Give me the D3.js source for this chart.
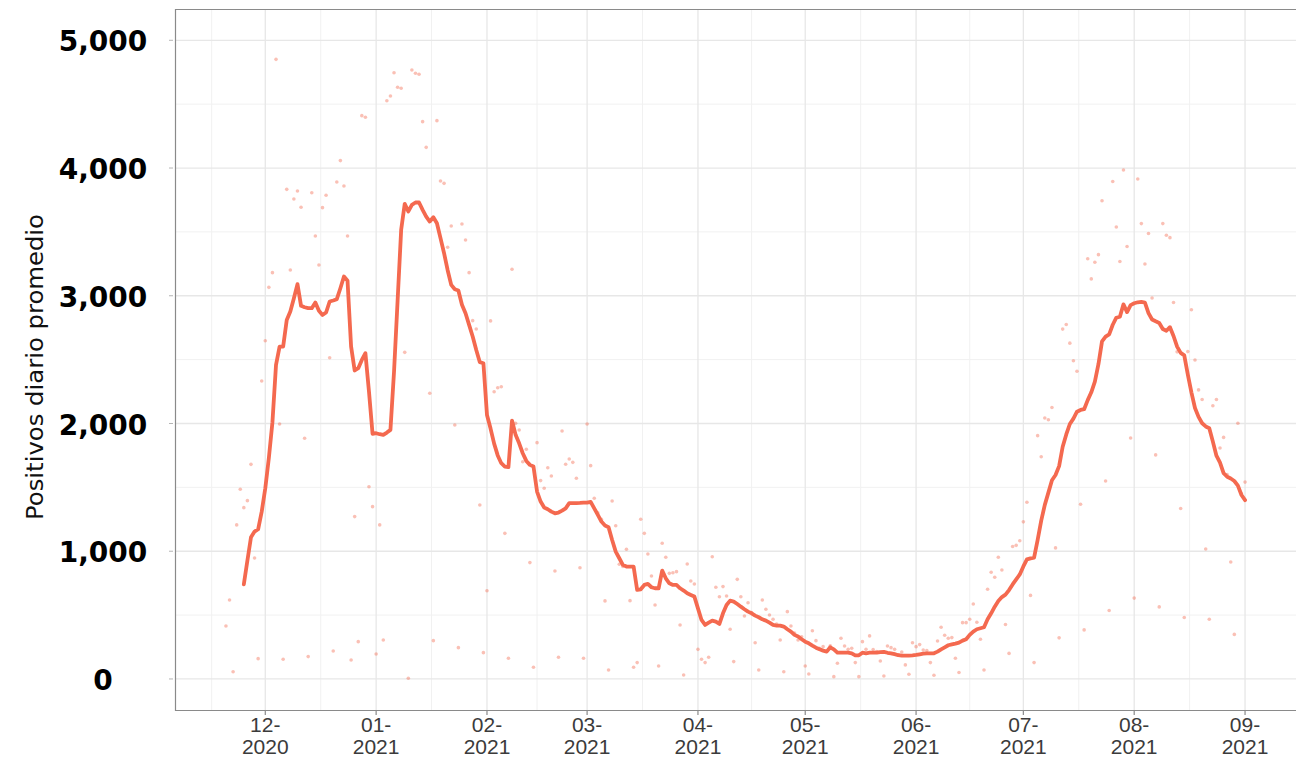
<!DOCTYPE html>
<html>
<head>
<meta charset="utf-8">
<script src="https://cdn.jsdelivr.net/npm/d3@7"></script>
<style>
  html, body { margin: 0; padding: 0; background: #fff; }
  svg { display: block; }
</style>
</head>
<body>
<svg id="chart" width="1296" height="759"></svg>
<script>
// daily positives, one value per day starting 2020-11-20
var dailyStart = '2020-11-20';
var dailyValues = [
  415, 618, 57, 1206, 1485, 1341, 1396, 1680, 947, 159,
  2333, 2648, 3066, 3181, 4851, 1996, 154, 3833, 3202, 3758,
  3820, 3693, 1884, 175, 3807, 3468, 3241, 3690, 3787, 2515,
  219, 3891, 4058, 3859, 3468, 149, 1271, 292, 4410, 4397,
  1505, 1349, 196, 1206, 305, 4527, 4564, 4746, 4632, 4624,
  2557, 5, 4767, 4742, 4734, 4363, 4162, 2237, 300, 4371,
  3899, 3880, 3380, 3546, 1988, 245, 3562, 3437, 3181, 2805,
  2740, 1362, 206, 691, 2803, 2249, 2280, 2288, 1140, 162,
  3207, 2001, 1949, 1701, 1798, 911, 92, 1850, 1553, 1493,
  1654, 1589, 845, 170, 1941, 1681, 1722, 1696, 1571, 871,
  162, 1996, 1670, 1415, 1300, 1250, 611, 70, 1393, 1200,
  898, 880, 1015, 613, 92, 128, 1250, 1140, 978, 806,
  579, 102, 1062, 953, 827, 832, 840, 423, 31, 900,
  767, 744, 232, 154, 128, 170, 957, 718, 644, 723,
  650, 389, 136, 780, 644, 493, 597, 520, 284, 70,
  618, 546, 501, 467, 430, 305, 57, 527, 415, 360,
  305, 330, 102, 39, 378, 300, 240, 253, 220, 260,
  18, 123, 319, 258, 232, 240, 128, 18, 292, 232,
  337, 230, 215, 141, 23, 258, 245, 232, 190, 211,
  110, 37, 284, 253, 269, 227, 222, 128, 29, 297,
  405, 342, 319, 324, 162, 50, 441, 441, 467, 587,
  444, 311, 70, 702, 835, 796, 953, 853, 426, 200,
  1037, 1046, 1082, 1230, 1384, 654, 128, 1905, 1740, 2043,
  2029, 2125, 1026, 322, 2739, 2775, 2629, 2491, 2409, 1368,
  384, 3290, 3132, 3262, 3322, 3744, 1550, 536, 3895, 3538,
  3268, 3984, 3386, 1886, 633, 3914, 3565, 3249, 3488, 2982,
  1754, 564, 3565, 3474, 3455, 2947, 2561, 1335, 481, 2563,
  2891, 2497, 2263, 2188, 1018, 467, 2139, 2188, 1808, 1891,
  1600, 916, 349, 2002, 1450, 1541
];

// 7-day average, one value per day starting 2020-11-25
var avgStart = '2020-11-25';
var avgValues = [
  741, 927, 1109, 1154, 1172, 1310, 1493, 1731, 2010, 2459,
  2602, 2602, 2811, 2877, 2981, 3091, 2921, 2910, 2903, 2903,
  2947, 2882, 2850, 2869, 2955, 2963, 2973, 3059, 3151, 3117,
  2602, 2415, 2433, 2498, 2550, 2250, 1919, 1924, 1916, 1911,
  1929, 1950, 2404, 2960, 3516, 3720, 3660, 3712, 3730, 3730,
  3673, 3620, 3581, 3615, 3568, 3451, 3333, 3200, 3085, 3051,
  3041, 2929, 2863, 2772, 2681, 2576, 2480, 2472, 2067, 1960,
  1842, 1750, 1689, 1663, 1658, 2023, 1911, 1845, 1767, 1707,
  1676, 1663, 1467, 1389, 1342, 1329, 1310, 1297, 1303, 1318,
  1336, 1376, 1376, 1376, 1378, 1381, 1381, 1386, 1336, 1284,
  1232, 1201, 1188, 1088, 997, 945, 893, 880, 880, 880,
  697, 702, 736, 744, 718, 710, 710, 848, 788, 749,
  736, 736, 710, 692, 671, 658, 645, 553, 462, 423,
  441, 457, 449, 431, 514, 579, 613, 606, 587, 566,
  546, 527, 514, 496, 483, 467, 457, 441, 423, 418,
  418, 410, 389, 371, 345, 332, 311, 292, 279, 261,
  245, 232, 222, 214, 248, 232, 206, 206, 206, 206,
  201, 185, 185, 206, 201, 206, 206, 206, 210, 212,
  205, 201, 194, 186, 183, 183, 183, 185, 188, 193,
  198, 201, 201, 201, 214, 232, 248, 264, 271, 277,
  285, 300, 311, 345, 371, 389, 397, 405, 467, 514,
  566, 610, 641, 660, 696, 740, 779, 818, 881, 936,
  944, 950, 1088, 1239, 1363, 1459, 1556, 1597, 1666, 1818,
  1914, 1996, 2038, 2092, 2106, 2112, 2183, 2244, 2327, 2464,
  2643, 2680, 2698, 2773, 2828, 2836, 2933, 2872, 2927, 2941,
  2949, 2952, 2947, 2864, 2814, 2800, 2787, 2740, 2726, 2754,
  2685, 2602, 2553, 2533, 2382, 2244, 2121, 2052, 2002, 1977,
  1963, 1858, 1748, 1693, 1611, 1583, 1569, 1550, 1514, 1440,
  1400
];

var yTicks = [0, 1000, 2000, 3000, 4000, 5000];
var yMinor = [500, 1500, 2500, 3500, 4500];
var monthTicks = ['2020-12-01', '2021-01-01', '2021-02-01', '2021-03-01', '2021-04-01',
  '2021-05-01', '2021-06-01', '2021-07-01', '2021-08-01', '2021-09-01'];
var yTitle = 'Positivos diario promedio';

var cfg = {
  left: 175, right: 1296, top: 9, bottom: 710,
  yDomain: [-243, 5245],
  lineColor: '#f4694f'
};

var parse = d3.utcParse('%Y-%m-%d');
function series(start, values){
  var t0 = parse(start);
  return values.map(function(v, i){
    return { date: d3.utcDay.offset(t0, i), val: v };
  });
}
var daily = series(dailyStart, dailyValues);
var avg = series(avgStart, avgValues);

// ggplot-like 5% expansion of the date range
var ext = d3.extent(daily, function(d){ return +d.date; });
var pad = (ext[1] - ext[0]) * 0.05;
var x = d3.scaleUtc().domain([new Date(ext[0] - pad), new Date(ext[1] + pad)]).range([cfg.left, cfg.right]);
var y = d3.scaleLinear().domain(cfg.yDomain).range([cfg.bottom, cfg.top]);

var svg = d3.select('#chart');
svg.append('rect').attr('width', 1296).attr('height', 759).attr('fill', '#fff');

svg.append('clipPath').attr('id', 'panel')
  .append('rect').attr('x', cfg.left).attr('y', cfg.top)
  .attr('width', cfg.right - cfg.left).attr('height', cfg.bottom - cfg.top);

var grid = svg.append('g').attr('class', 'grid');

// minor x gridlines at mid-month
var majors = monthTicks.map(parse);
var allMonths = d3.utcMonth.range(d3.utcMonth.offset(majors[0], -1), d3.utcMonth.offset(majors[majors.length - 1], 2));
var xMinor = d3.pairs(allMonths).map(function(p){
  return new Date((+p[0] + +p[1]) / 2);
}).filter(function(d){
  var px = x(d);
  return px > cfg.left && px < cfg.right;
});

grid.selectAll('line.ymin').data(yMinor).enter().append('line')
  .attr('class', 'ymin')
  .attr('x1', cfg.left).attr('x2', cfg.right)
  .attr('y1', function(d){ return y(d); }).attr('y2', function(d){ return y(d); })
  .attr('stroke', '#f1f1f1').attr('stroke-width', 1);
grid.selectAll('line.xmin').data(xMinor).enter().append('line')
  .attr('class', 'xmin')
  .attr('y1', cfg.top).attr('y2', cfg.bottom)
  .attr('x1', function(d){ return x(d); }).attr('x2', function(d){ return x(d); })
  .attr('stroke', '#f1f1f1').attr('stroke-width', 1);
grid.selectAll('line.ymaj').data(yTicks).enter().append('line')
  .attr('class', 'ymaj')
  .attr('x1', cfg.left).attr('x2', cfg.right)
  .attr('y1', function(d){ return y(d); }).attr('y2', function(d){ return y(d); })
  .attr('stroke', '#e7e7e7').attr('stroke-width', 1.3);
grid.selectAll('line.xmaj').data(majors).enter().append('line')
  .attr('class', 'xmaj')
  .attr('y1', cfg.top).attr('y2', cfg.bottom)
  .attr('x1', function(d){ return x(d); }).attr('x2', function(d){ return x(d); })
  .attr('stroke', '#e7e7e7').attr('stroke-width', 1.3);

var plot = svg.append('g').attr('clip-path', 'url(#panel)');

plot.selectAll('circle.day').data(daily).enter().append('circle')
  .attr('class', 'day')
  .attr('cx', function(d){ return x(d.date); })
  .attr('cy', function(d){ return y(d.val); })
  .attr('r', 1.8)
  .attr('fill', cfg.lineColor)
  .attr('fill-opacity', 0.42);

var line = d3.line()
  .x(function(d){ return x(d.date); })
  .y(function(d){ return y(d.val); });
plot.append('path').datum(avg)
  .attr('d', line)
  .attr('fill', 'none')
  .attr('stroke', cfg.lineColor)
  .attr('stroke-width', 3.8)
  .attr('stroke-linejoin', 'round')
  .attr('stroke-linecap', 'round');

// panel border (right side falls off the page, as in the source)
svg.append('path')
  .attr('d', 'M' + (cfg.right + 2) + ',' + (cfg.top + 0.5) + 'H' + (cfg.left + 0.5) +
    'V' + (cfg.bottom + 0.5) + 'H' + (cfg.right + 2))
  .attr('fill', 'none').attr('stroke', '#8a8a8a').attr('stroke-width', 1.2);

// axis ticks
svg.selectAll('line.ytick').data(yTicks).enter().append('line')
  .attr('class', 'ytick')
  .attr('x1', cfg.left - 6).attr('x2', cfg.left - 2)
  .attr('y1', function(d){ return y(d); }).attr('y2', function(d){ return y(d); })
  .attr('stroke', '#b5b5b5').attr('stroke-width', 1);
svg.selectAll('line.xtick').data(majors).enter().append('line')
  .attr('class', 'xtick')
  .attr('y1', cfg.bottom).attr('y2', cfg.bottom + 5)
  .attr('x1', function(d){ return x(d); }).attr('x2', function(d){ return x(d); })
  .attr('stroke', '#8a8a8a').attr('stroke-width', 1.2);

// y labels
svg.selectAll('text.ylab').data(yTicks).enter().append('text')
  .attr('class', 'ylab')
  .attr('x', 103)
  .attr('y', function(d){ return y(d); })
  .attr('dy', '0.4em')
  .attr('text-anchor', 'middle')
  .attr('font-family', '"DejaVu Sans", sans-serif')
  .attr('font-weight', 'bold')
  .attr('font-size', 28)
  .attr('fill', '#000')
  .text(d3.format(','));

// x labels, two lines
var fmtM = d3.utcFormat('%m-'), fmtY = d3.utcFormat('%Y');
var xl = svg.selectAll('text.xlab').data(majors).enter().append('text')
  .attr('class', 'xlab')
  .attr('text-anchor', 'middle')
  .attr('font-family', '"Liberation Sans", Arial, sans-serif')
  .attr('font-size', 21)
  .attr('fill', '#3b3b3b');
xl.append('tspan')
  .attr('x', function(d){ return x(d); }).attr('y', 732)
  .text(function(d){ return fmtM(d); });
xl.append('tspan')
  .attr('x', function(d){ return x(d); }).attr('y', 754)
  .text(function(d){ return fmtY(d); });

// y title
svg.append('text')
  .attr('transform', 'translate(43,' + 367 + ') rotate(-90)')
  .attr('text-anchor', 'middle')
  .attr('font-family', '"DejaVu Sans", sans-serif')
  .attr('font-size', 23)
  .attr('fill', '#111')
  .attr('textLength', 306)
  .attr('lengthAdjust', 'spacingAndGlyphs')
  .text(yTitle);
</script>
</body>
</html>
